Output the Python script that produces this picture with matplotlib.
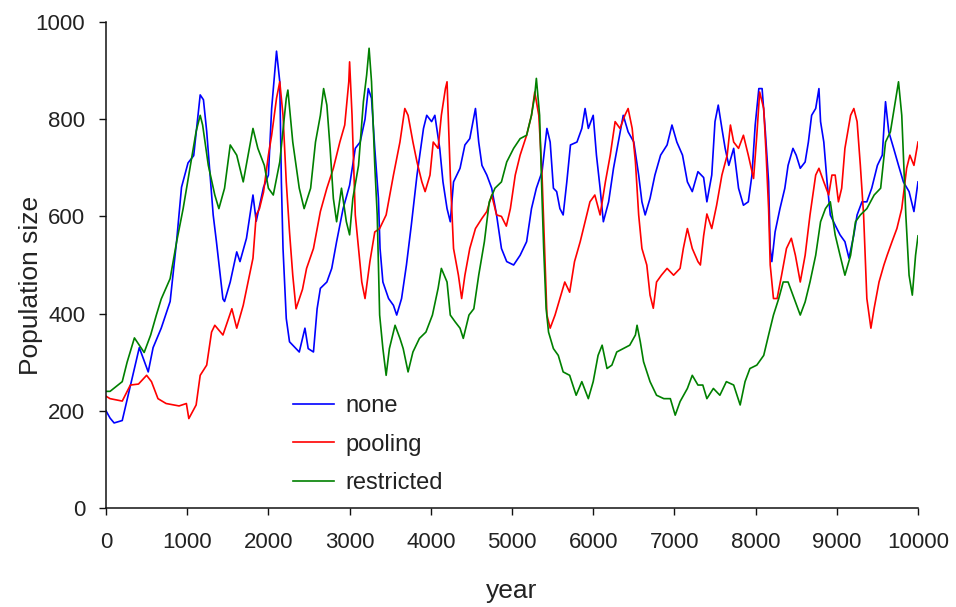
import numpy as np
import matplotlib
matplotlib.use('Agg')
import matplotlib.pyplot as plt

# population size over time for three migration schemes
none_year = [0, 50, 100, 200, 330, 410, 520, 580, 680, 790, 870, 930, 1010, 1080, 1160, 1200,
             1240, 1320, 1360, 1440, 1460, 1530, 1610, 1650, 1730, 1810, 1850, 1940, 2000, 2040,
             2100, 2140, 2160, 2180, 2220, 2260, 2340, 2380, 2450, 2490, 2555, 2600, 2640, 2720,
             2780, 2840, 2920, 3000, 3070, 3130, 3190, 3230, 3270, 3310, 3355, 3375, 3410, 3480,
             3540, 3580, 3640, 3700, 3760, 3830, 3910, 3950, 4010, 4050, 4110, 4150, 4200, 4240,
             4280, 4360, 4420, 4480, 4550, 4590, 4630, 4690, 4750, 4810, 4870, 4935, 5020, 5100,
             5180, 5240, 5300, 5370, 5430, 5470, 5510, 5550, 5590, 5630, 5675, 5720, 5800, 5860,
             5900, 5940, 6000, 6040, 6085, 6125, 6190, 6250, 6310, 6370, 6430, 6500, 6560, 6600,
             6640, 6700, 6760, 6830, 6910, 6970, 7030, 7100, 7160, 7220, 7290, 7360, 7400, 7460,
             7500, 7540, 7585, 7625, 7670, 7730, 7790, 7850, 7910, 7955, 7995, 8040, 8080, 8120,
             8160, 8180, 8200, 8240, 8300, 8360, 8400, 8460, 8500, 8550, 8610, 8650, 8690, 8740,
             8780, 8800, 8840, 8880, 8920, 8980, 9040, 9100, 9150, 9210, 9250, 9310, 9370, 9430,
             9500, 9560, 9600, 9640, 9700, 9760, 9820, 9890, 9950, 10000]
none_pop = [200, 185, 175, 180, 273, 330, 280, 330, 370, 425, 550, 660, 710, 725, 850, 840,
            775, 603, 548, 430, 425, 465, 527, 507, 555, 644, 590, 660, 685, 822,
            940, 877, 670, 534, 390, 342, 328, 321, 370, 328, 321, 410, 452, 465,
            493, 548, 616, 664, 740, 753, 800, 863, 843, 740, 637, 534, 465, 431,
            417, 397, 431, 500, 582, 685, 781, 808, 795, 808, 740, 671, 616, 589,
            671, 699, 747, 760, 822, 753, 705, 685, 658, 603, 534, 507, 500, 520,
            548, 616, 658, 692, 781, 753, 658, 651, 616, 603, 671, 747, 753, 781,
            822, 781, 808, 726, 658, 589, 630, 699, 753, 808, 774, 753, 685, 630,
            603, 637, 685, 726, 747, 788, 753, 726, 671, 651, 692, 680, 630, 685,
            795, 829, 781, 740, 705, 740, 658, 623, 630, 685, 788, 863, 863, 774,
            671, 534, 507, 568, 616, 658, 705, 740, 726, 699, 712, 753, 808, 822,
            863, 795, 753, 671, 603, 582, 562, 548, 514, 562, 603, 630, 630, 658,
            705, 726, 836, 774, 740, 705, 671, 651, 610, 671]

pool_year = [0, 50, 200, 300, 400, 500, 560, 640, 740, 900, 990, 1020, 1110, 1160, 1240, 1300,
             1340, 1440, 1550, 1610, 1690, 1750, 1810, 1850, 1890, 1940, 2000, 2040, 2100, 2140,
             2180, 2220, 2260, 2300, 2340, 2420, 2470, 2555, 2640, 2720, 2800, 2880, 2940, 2990,
             3000, 3030, 3070, 3110, 3150, 3190, 3250, 3310, 3370, 3450, 3540, 3620, 3680, 3720,
             3780, 3830, 3890, 3930, 3990, 4030, 4090, 4130, 4180, 4200, 4240, 4280, 4340, 4380,
             4420, 4480, 4550, 4630, 4690, 4750, 4810, 4870, 4930, 4980, 5040, 5100, 5180, 5240,
             5280, 5330, 5370, 5390, 5430, 5470, 5530, 5590, 5650, 5710, 5770, 5840, 5900, 5960,
             6020, 6085, 6150, 6210, 6270, 6330, 6390, 6430, 6480, 6520, 6560, 6600, 6660, 6700,
             6740, 6780, 6840, 6910, 6990, 7070, 7110, 7160, 7220, 7290, 7320, 7360, 7400, 7460,
             7520, 7585, 7650, 7690, 7730, 7790, 7850, 7910, 7975, 8015, 8050, 8100, 8130, 8160,
             8180, 8220, 8265, 8320, 8380, 8440, 8490, 8550, 8610, 8670, 8740, 8780, 8840, 8900,
             8940, 8980, 9020, 9060, 9100, 9170, 9210, 9250, 9290, 9330, 9370, 9420, 9460, 9520,
             9580, 9620, 9680, 9740, 9800, 9860, 9900, 9950, 10000]
pool_pop = [230, 225, 220, 253, 255, 273, 260, 225, 215, 210, 215, 184, 212, 273, 294, 362,
            376, 356, 410, 370, 417, 465, 514, 603, 616, 650, 726, 767, 843, 877,
            808, 671, 568, 479, 410, 450, 493, 534, 610, 658, 699, 753, 788, 877,
            918, 808, 603, 534, 465, 431, 507, 568, 575, 603, 685, 753, 822, 808,
            753, 712, 671, 651, 685, 753, 740, 808, 863, 877, 685, 534, 479, 431,
            479, 534, 575, 596, 610, 644, 603, 600, 580, 616, 685, 726, 767, 808,
            856, 808, 685, 589, 397, 370, 397, 431, 465, 444, 507, 548, 589, 630,
            644, 603, 671, 726, 795, 781, 808, 822, 781, 712, 603, 534, 500, 438,
            411, 465, 479, 493, 479, 493, 534, 575, 534, 507, 500, 560, 605, 575,
            623, 685, 726, 788, 753, 740, 767, 726, 678, 767, 856, 822, 726, 616,
            500, 431, 431, 479, 534, 555, 520, 465, 520, 603, 685, 699, 671, 644,
            685, 685, 630, 658, 740, 808, 822, 795, 705, 603, 431, 370, 411, 465,
            500, 520, 548, 575, 616, 699, 726, 705, 753]

restr_year = [0, 50, 200, 260, 350, 470, 550, 620, 680, 790, 870, 950, 1040, 1110, 1160, 1190,
              1260, 1340, 1390, 1460, 1530, 1610, 1690, 1750, 1810, 1870, 1950, 2000, 2060, 2140,
              2220, 2240, 2300, 2380, 2440, 2520, 2580, 2640, 2680, 2720, 2760, 2800, 2840, 2900,
              2960, 3000, 3040, 3110, 3170, 3210, 3240, 3270, 3310, 3340, 3370, 3410, 3450, 3490,
              3560, 3620, 3660, 3720, 3780, 3860, 3940, 4020, 4090, 4130, 4200, 4240, 4300, 4360,
              4400, 4470, 4530, 4590, 4660, 4720, 4790, 4870, 4935, 5020, 5100, 5180, 5240, 5280,
              5300, 5340, 5370, 5390, 5420, 5450, 5510, 5570, 5630, 5710, 5790, 5860, 5940, 6000,
              6060, 6110, 6170, 6230, 6290, 6370, 6450, 6520, 6540, 6580, 6620, 6700, 6780, 6870,
              6950, 7010, 7070, 7160, 7220, 7290, 7350, 7400, 7480, 7560, 7640, 7730, 7810, 7870,
              7930, 8015, 8100, 8160, 8220, 8285, 8340, 8400, 8460, 8550, 8610, 8670, 8740, 8800,
              8860, 8920, 8980, 9040, 9100, 9170, 9230, 9290, 9370, 9460, 9540, 9600, 9660, 9720,
              9760, 9800, 9850, 9890, 9930, 9970, 10000]
restr_pop = [240, 240, 260, 300, 350, 320, 356, 397, 430, 472, 548, 616, 705, 775, 808, 788,
             705, 644, 616, 658, 747, 726, 671, 726, 781, 740, 705, 658, 644, 712,
             843, 860, 753, 658, 616, 658, 753, 808, 863, 829, 740, 637, 589, 658,
             589, 562, 637, 705, 836, 891, 946, 877, 705, 603, 397, 328, 273, 328,
             376, 349, 328, 280, 321, 349, 362, 397, 452, 493, 465, 397, 383, 370,
             349, 397, 410, 479, 548, 630, 658, 671, 712, 740, 760, 767, 808, 849,
             884, 808, 637, 534, 411, 362, 328, 314, 280, 273, 232, 260, 225, 260,
             314, 335, 287, 294, 321, 328, 335, 356, 376, 342, 301, 260, 232, 225,
             225, 191, 219, 246, 273, 253, 253, 225, 246, 232, 260, 253, 212, 260,
             287, 294, 314, 356, 397, 431, 465, 465, 438, 397, 424, 465, 520, 589,
             616, 630, 562, 520, 479, 520, 589, 603, 616, 644, 658, 753, 774, 836,
             877, 808, 603, 479, 438, 520, 560]

labels = ['none', 'pooling', 'restricted']
colors = ['#0000ff', '#ff0000', '#008000']

plt.rcParams['font.family'] = ['Liberation Sans', 'DejaVu Sans']

fig = plt.figure(figsize=(9.56, 6.07), dpi=100)
ax = fig.add_axes([106 / 956, 99 / 607, 812 / 956, 486 / 607])

series = [(none_year, none_pop), (pool_year, pool_pop), (restr_year, restr_pop)]
for (yr, pop), lab, c in zip(series, labels, colors):
    ax.plot(yr, pop, color=c, lw=1.2, label=lab)

ax.set_xlim(0, 10000)
ax.set_ylim(0, 1000)
ax.set_xticks(np.arange(0, 10001, 1000))
ax.set_yticks(np.arange(0, 1001, 200))

for s in ['top', 'right']:
    ax.spines[s].set_visible(False)
for s in ['left', 'bottom']:
    ax.spines[s].set_linewidth(1.1)
    ax.spines[s].set_color('#111111')

ax.tick_params(axis='both', direction='out', length=5, width=1.0, color='#111111',
               labelsize=16, labelcolor='#222222')
ax.tick_params(axis='x', pad=12)
ax.tick_params(axis='y', pad=10)

ax.set_ylabel('Population size', fontsize=19, color='#222222', va='center')
ax.yaxis.set_label_coords(-0.092, 0.457)
ax.set_xlabel('year', fontsize=19, color='#222222', va='baseline')
ax.xaxis.set_label_coords(0.5, -0.185)

leg = ax.legend(loc='upper left', bbox_to_anchor=(293 / 956, 1 - 395 / 607),
                bbox_transform=fig.transFigure, frameon=False, fontsize=17,
                handlelength=1.75, handletextpad=0.45, labelspacing=0.7,
                borderpad=0, borderaxespad=0)
for t in leg.get_texts():
    t.set_color('#222222')

fig.savefig('out.png', dpi=100)
